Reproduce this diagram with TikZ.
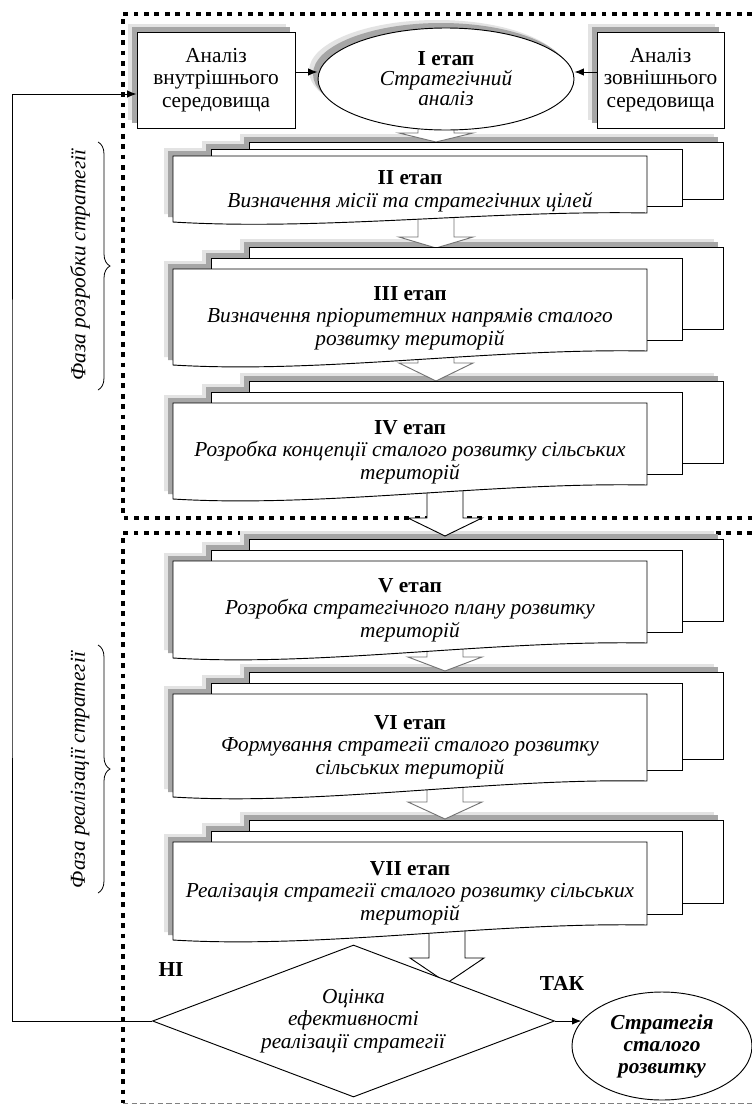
\documentclass[tikz,border=0pt]{standalone}
\usepackage{fontspec}
\setmainfont{Liberation Serif}
\usetikzlibrary{shapes.geometric, shadows, arrows.meta, decorations.pathreplacing}

% three sheets of one stage: #1 style, #2 top, #3 bottom left, #4 bottom right, #5/#6 lift of back/middle sheet
\newcommand{\paperstack}[6]{%
  \path[#1] (249,#2-#5) rectangle (723,#4-#5);
  \path[#1] (211,#2-#6) rectangle (682,#4-#6);
  \path[#1] (173,#2) -- (647,#2) -- (647,#4) .. controls (490,#4-3) and (320,#3+9) .. (173,#3) -- cycle;
}
% hollow arrow: centre x, shaft top, head base, tip, colour
\newcommand{\blockarrow}[5]{%
  \draw[blockarrow=#5] (#1-18,#2) -- (#1-18,#3) -- (#1-37,#3) -- (#1,#4) -- (#1+37,#3) -- (#1+18,#3) -- (#1+18,#2);
}

\begin{document}
\begin{tikzpicture}[x=0.75pt, y=-0.75pt,
    font=\fontsize{16}{17}\selectfont,
    lightshadow/.style={fill=gray!22},
    darkshadow/.style={fill=gray!70},
    paper/.style={draw=black, line width=0.7pt, fill=white},
    topbox/.style={paper, inner sep=0pt, align=center,
      general shadow={shadow xshift=-6.75pt, shadow yshift=6pt, lightshadow},
      general shadow={shadow xshift=-3.75pt, shadow yshift=3.75pt, darkshadow}},
    frame/.style={line width=2.6pt, dash pattern=on 3.6pt off 4.2pt},
    pointer/.style={-{Latex[length=7pt, width=5.5pt]}, line width=0.7pt},
    phase/.style={font=\fontsize{16}{17}\selectfont\itshape, rotate=90},
    blockarrow/.style={draw=#1, line width=0.7pt, fill=white}]

    \fill[white] (0,0) rectangle (752,1104);
    \useasboundingbox (0,0) rectangle (752,1104);

    % Phase frames
    \draw[frame] (752,14) -- (123,14) -- (123,518) -- (752,518);
    \draw[frame] (752,533) -- (123,533) -- (123,1103);
    \draw[gray, line width=0.6pt, dash pattern=on 4pt off 2.5pt] (123,1103) -- (752,1103);

    % Shadows of the stages
    \foreach \t/\lb/\rb/\ob/\om in {156/222/213/14/7, 269/365/351/22/11, 403/499/485/22/11,
        561/658/643/22/11, 694/797/781/22/11, 842/940/925/22/11} {
      \begin{scope}[shift={(-9,-8)}]
        \paperstack{lightshadow}{\t}{\lb}{\rb}{\ob}{\om}
      \end{scope}
      \begin{scope}[shift={(-5,-5)}]
        \paperstack{darkshadow}{\t}{\lb}{\rb}{\ob}{\om}
      \end{scope}
    }

    % Arrows between the stages
    \blockarrow{436}{115}{133}{142}{black!55}
    \blockarrow{436}{205}{237}{248}{black!55}
    \blockarrow{436}{350}{363}{381}{black!55}
    \blockarrow{445}{480}{518}{536}{black}
    \blockarrow{445}{640}{657}{671}{black!55}
    \blockarrow{445}{785}{802}{819}{black!55}
    \blockarrow{447}{925}{958}{983}{black}

    % Sheets of the stages
    \foreach \t/\lb/\rb/\ob/\om in {156/222/213/14/7, 269/365/351/22/11, 403/499/485/22/11,
        561/658/643/22/11, 694/797/781/22/11, 842/940/925/22/11} {
      \paperstack{paper}{\t}{\lb}{\rb}{\ob}{\om}
    }

    % Stage I and its inputs
    \node[topbox, minimum width=118.5pt, minimum height=72pt] (inner) at (216,80) {Аналіз\\внутрішнього\\середовища};
    \node[topbox, ellipse, minimum width=192pt, minimum height=76.5pt, font=\fontsize{16}{15}\selectfont] (stage1) at (446,79)
        {\textbf{I етап}\\\textit{Стратегічний}\\\textit{аналіз}};
    \node[topbox, minimum width=95.25pt, minimum height=72pt] (outer) at (660.5,80) {Аналіз\\зовнішнього\\середовища};
    \draw[pointer] ([yshift=6pt]inner.east) -- ([yshift=6pt]inner.east -| stage1.west);
    \draw[pointer] ([yshift=6pt]outer.west) -- ([yshift=6pt]outer.west -| stage1.east);

    % Stage texts
    \node[align=center] (s2) at (410,191) {\textbf{II етап}\\\textit{Визначення місії та стратегічних цілей}};
    \node[align=center] (s3) at (410,318) {\textbf{III етап}\\\textit{Визначення пріоритетних напрямів сталого}\\\textit{розвитку територій}};
    \node[align=center] (s4) at (410,452) {\textbf{IV етап}\\\textit{Розробка концепції сталого розвитку сільських}\\\textit{територій}};
    \node[align=center] (s5) at (410,610) {\textbf{V етап}\\\textit{Розробка стратегічного плану розвитку}\\\textit{територій}};
    \node[align=center] (s6) at (410,747) {\textbf{VI етап}\\\textit{Формування стратегії сталого розвитку}\\\textit{сільських територій}};
    \node[align=center] (s7) at (410,893) {\textbf{VII етап}\\\textit{Реалізація стратегії сталого розвитку сільських}\\\textit{територій}};

    % Decision and result
    \node[paper, diamond, aspect=2.64, minimum width=301.5pt, minimum height=114pt, inner sep=0pt, align=center] (check)
        at (353.5,1021) {\textit{Оцінка}\\\textit{ефективності}\\\textit{реалізації стратегії}};
    \node[paper, ellipse, minimum width=135pt, minimum height=81pt, inner sep=0pt, align=center,
        font=\fontsize{16}{16.5}\selectfont\bfseries\itshape] (result) at (662,1046) {Стратегія\\сталого\\розвитку};
    \node[font=\fontsize{16}{17}\selectfont\bfseries] (ni) at (171,970) {НІ};
    \node[font=\fontsize{16}{17}\selectfont\bfseries] (tak) at (562,983) {ТАК};
    \draw[pointer] (check.east) -- (check.east -| result.163);

    % Feedback line
    \coordinate (fbline) at (12,500);
    \draw[pointer] (check.west) -| (fbline) |- ([yshift=-10.5pt]inner.west);

    % Phases
    \draw[decorate, decoration={brace, amplitude=9pt}, line width=0.6pt] (98,142) -- (98,390);
    \node[phase] (phase1) at (80,265) {Фаза розробки стратегії};
    \draw[decorate, decoration={brace, amplitude=9pt}, line width=0.6pt] (98,645) -- (98,893);
    \node[phase] (phase2) at (80,770) {Фаза реалізації стратегії};
\end{tikzpicture}
\end{document}
